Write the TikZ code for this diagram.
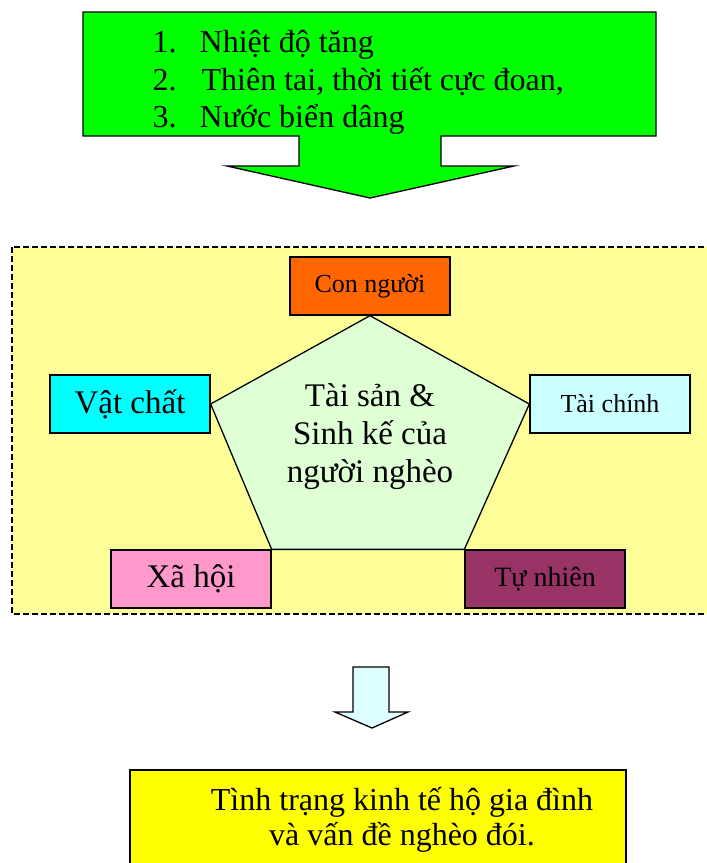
\documentclass[tikz,border=0pt]{standalone}
\usepackage{fontspec}
\setmainfont{Liberation Serif}
\definecolor{callgreen}{HTML}{00FF00}
\definecolor{frameyellow}{HTML}{FFFF99}
\definecolor{conorange}{HTML}{FF6600}
\definecolor{vatcyan}{HTML}{00FFFF}
\definecolor{taicyan}{HTML}{CCFFFF}
\definecolor{xapink}{HTML}{FF99CC}
\definecolor{tuplum}{HTML}{993366}
\definecolor{pentgreen}{HTML}{DFFFD5}
\definecolor{arrowcyan}{HTML}{DDFFFF}
\definecolor{endyellow}{HTML}{FFFF00}
\begin{document}
\begin{tikzpicture}[x=1pt, y=-1pt, line width=1.3pt,
  box/.style={draw, minimum width=160pt, minimum height=58pt, inner sep=0pt},
  txtL/.style={font=\fontsize{33}{38}\selectfont},
  txtS/.style={font=\fontsize{26}{30}\selectfont},
  item/.style={anchor=base west, inner sep=0pt, font=\fontsize{32}{36}\selectfont}]
\useasboundingbox (0,0) rectangle (707,863);
\clip (0,0) rectangle (707,863);

% frame round the assets
\draw[fill=frameyellow, dash pattern=on 6pt off 3pt] (12,247) rectangle (720,614);

% top callout
\draw[fill=callgreen] (83,12) -- (656,12) -- (656,136) -- (441,136) -- (441,166)
  -- (514,166) -- (370,198) -- (227,166) -- (299,166) -- (299,136) -- (83,136) -- cycle;
\node[item] (N1) at (152,52) {1.};
\node[item] (L1) at (199,52) {Nhiệt độ tăng};
\node[item] (N2) at (152,90) {2.};
\node[item] (L2) at (201,90) {Thiên tai, thời tiết cực đoan,};
\node[item] (N3) at (152,127) {3.};
\node[item] (L3) at (199,127) {Nước biển dâng};

\node[box, fill=conorange, txtS] (CN) at (370,286) {Con người};
\node[box, fill=vatcyan, txtL] (VC) at (130,404) {Vật chất};
\node[box, fill=taicyan, txtS] (TC) at (610,404) {Tài chính};
\node[box, fill=xapink, txtL] (XH) at (191,579) {Xã hội};
\node[box, fill=tuplum, font=\fontsize{28}{30}\selectfont] (TN) at (545,579) {Tự nhiên};

\draw[fill=pentgreen] (CN.south) -- (TC.west) -- (TN.north west) -- (XH.north east) -- (VC.east) -- cycle;
\node[txtL, align=center] (TS) at (370,437) {Tài sản \&\\Sinh kế của\\người nghèo};

% small arrow
\draw[fill=arrowcyan] (353,667) -- (389,667) -- (389,712) -- (408,712) -- (372,728)
  -- (335,712) -- (353,712) -- cycle;

\draw[fill=endyellow] (130,770) rectangle (626,880);
\node[font=\fontsize{32}{35}\selectfont, align=center] (KQ) at (402,820)
  {Tình trạng kinh tế hộ gia đình\\và vấn đề nghèo đói.};

\end{tikzpicture}
\end{document}
